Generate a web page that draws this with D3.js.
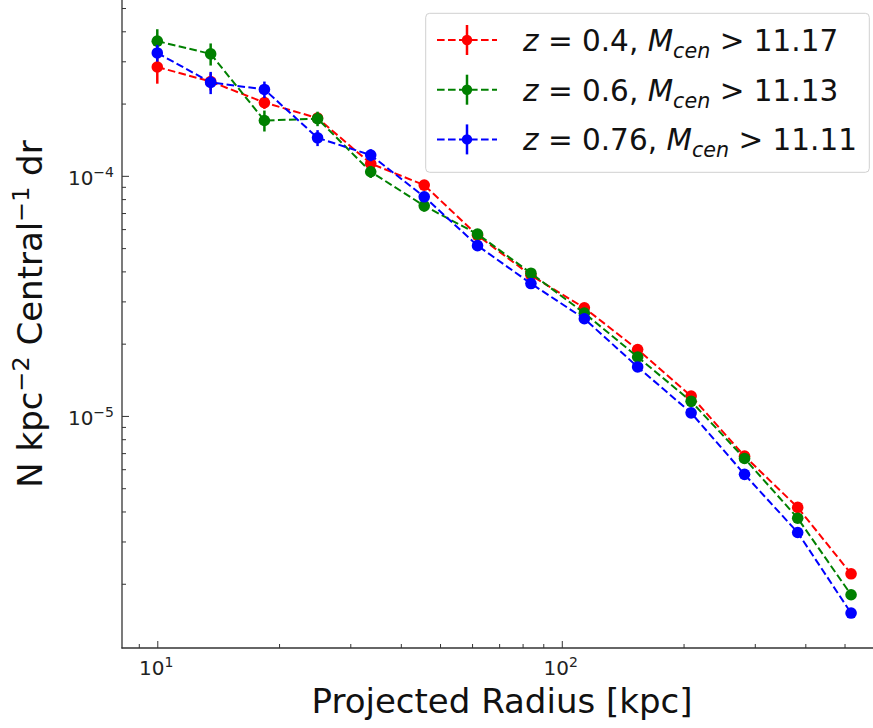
<!DOCTYPE html>
<html><head><meta charset="utf-8">
<script src="https://cdn.jsdelivr.net/npm/d3@7"></script>
<style>body{margin:0;background:#fff} text{font-family:"DejaVu Sans",sans-serif;fill:#000}</style>
</head><body><svg id="c" width="873" height="728"></svg>
<script>
// ---- data ----
const radius = [10.0, 13.55, 18.4, 24.9, 33.7, 45.7, 61.9, 83.9, 113.7, 154, 208.8, 283, 383, 519];
const nRed   = [2.84e-4, 2.47e-4, 2.02e-4, 1.74e-4, 1.125e-4, 9.15e-5, 5.65e-5, 3.85e-5, 2.82e-5, 1.89e-5, 1.21e-5, 6.80e-6, 4.16e-6, 2.20e-6];
const nGreen = [3.64e-4, 3.22e-4, 1.70e-4, 1.73e-4, 1.04e-4, 7.50e-5, 5.72e-5, 3.93e-5, 2.68e-5, 1.76e-5, 1.15e-5, 6.65e-6, 3.75e-6, 1.80e-6];
const nBlue  = [3.25e-4, 2.45e-4, 2.29e-4, 1.44e-4, 1.22e-4, 8.18e-5, 5.12e-5, 3.56e-5, 2.54e-5, 1.60e-5, 1.03e-5, 5.71e-6, 3.27e-6, 1.51e-6];
const errRed   = [4.2e-5, 2.0e-5, 1.2e-5, 8e-6, 5e-6, 3.5e-6, 2e-6, 1.2e-6, 8e-7, 5e-7, 3e-7, 1.5e-7, 1e-7, 6e-8];
const errGreen = [4.4e-5, 3.4e-5, 1.7e-5, 1.2e-5, 6e-6, 4e-6, 2.2e-6, 1.4e-6, 9e-7, 5e-7, 3e-7, 1.6e-7, 1e-7, 6e-8];
const errBlue  = [2.6e-5, 2.6e-5, 1.8e-5, 1.1e-5, 7e-6, 4e-6, 2e-6, 1.2e-6, 8e-7, 5e-7, 3e-7, 1.5e-7, 9e-8, 5e-8];
const seriesColors = ["#ff0000", "#008000", "#0000ff"];
const zLabels = ["0.4", "0.6", "0.76"];
const massCuts = ["11.17", "11.13", "11.11"];
const xMajorTicks = [10, 100];
const xMajorExp = ["1", "2"];
const xMinorTicks = [9, 20, 30, 40, 50, 60, 70, 80, 90, 200, 300, 400, 500];
const yMajorTicks = [1e-5, 1e-4];
const yMajorExp = ["\u22125", "\u22124"];
const yMinorTicks = [2e-6, 3e-6, 4e-6, 5e-6, 6e-6, 7e-6, 8e-6, 9e-6, 2e-5, 3e-5, 4e-5, 5e-5, 6e-5, 7e-5, 8e-5, 9e-5, 2e-4, 3e-4, 4e-4, 5e-4];
const xDomain = [8.18, 588];
const yDomain = [1.08e-6, 5.4e-4];

// ---- layout ----
const svg = d3.select("#c");
const L = 122, R = 873, T = 0, B = 648;
const x = d3.scaleLog().domain(xDomain).range([L, R]);
const y = d3.scaleLog().domain(yDomain).range([B, T]);

const series = [
  {vals: nRed, err: errRed, color: seriesColors[0]},
  {vals: nGreen, err: errGreen, color: seriesColors[1]},
  {vals: nBlue, err: errBlue, color: seriesColors[2]}
];

const gData = svg.append("g");
series.forEach(s => {
  const pts = radius.map((r, i) => ({r, v: s.vals[i], e: s.err[i]}));
  const g = gData.append("g");
  g.append("path").datum(pts)
    .attr("d", d3.line().x(d => x(d.r)).y(d => y(d.v)))
    .attr("fill", "none").attr("stroke", s.color).attr("stroke-width", 2)
    .attr("stroke-dasharray", "7.6,3.4");
  g.selectAll("line.eb").data(pts).join("line")
    .attr("x1", d => x(d.r)).attr("x2", d => x(d.r))
    .attr("y1", d => y(d.v + d.e)).attr("y2", d => y(Math.max(d.v - d.e, 1e-9)))
    .attr("stroke", s.color).attr("stroke-width", 2.5);
  g.selectAll("circle").data(pts).join("circle")
    .attr("cx", d => x(d.r)).attr("cy", d => y(d.v)).attr("r", 5.8)
    .attr("fill", s.color);
});

// ---- axes ----
const axCol = "#333";
const gx = svg.append("g").attr("transform", `translate(0,${B})`);
gx.call(d3.axisBottom(x).tickValues(xMajorTicks).tickSize(-7).tickFormat(""));
const gxm = svg.append("g").attr("transform", `translate(0,${B})`);
gxm.call(d3.axisBottom(x).tickValues(xMinorTicks).tickSize(-4).tickFormat(""));
[gx, gxm].forEach(g => { g.select(".domain").remove(); g.selectAll("line").attr("stroke", axCol).attr("stroke-width", 1); });

const gy = svg.append("g").attr("transform", `translate(${L},0)`);
gy.call(d3.axisLeft(y).tickValues(yMajorTicks).tickSize(-7).tickFormat(""));
const gym = svg.append("g").attr("transform", `translate(${L},0)`);
gym.call(d3.axisLeft(y).tickValues(yMinorTicks).tickSize(-4).tickFormat(""));
[gy, gym].forEach(g => { g.select(".domain").remove(); g.selectAll("line").attr("stroke", axCol).attr("stroke-width", 1); });

svg.append("line").attr("x1", L).attr("x2", L).attr("y1", T - 2).attr("y2", B + 0.5).attr("stroke", axCol).attr("stroke-width", 1.3);
svg.append("line").attr("x1", L - 0.5).attr("x2", R + 2).attr("y1", B).attr("y2", B).attr("stroke", axCol).attr("stroke-width", 1.3);

// tick labels
const tickFs = 20;
xMajorTicks.forEach((t, i) => {
  const tx = svg.append("text").attr("x", x(t) - 1).attr("y", B + 27).attr("text-anchor", "middle")
    .style("font-size", tickFs + "px").style("fill", "#222");
  tx.append("tspan").text("10");
  tx.append("tspan").attr("dy", -8).style("font-size", (tickFs * 0.7) + "px").text(xMajorExp[i]);
});
yMajorTicks.forEach((t, i) => {
  const tx = svg.append("text").attr("x", L - 8).attr("y", y(t) + 9).attr("text-anchor", "end")
    .style("font-size", tickFs + "px").style("fill", "#222");
  tx.append("tspan").text("10");
  tx.append("tspan").attr("dy", -8).style("font-size", (tickFs * 0.7) + "px").text(yMajorExp[i]);
});

// axis labels
const labFs = 34;
svg.append("text").attr("x", (311 + 693) / 2).attr("y", 713).attr("text-anchor", "middle")
  .style("font-size", labFs + "px").style("fill", "#111").text("Projected Radius [kpc]");

const yl = svg.append("text").attr("transform", `translate(42,314) rotate(-90)`).attr("text-anchor", "middle")
  .style("font-size", labFs + "px").style("fill", "#111");
yl.append("tspan").text("N kpc");
yl.append("tspan").attr("dy", -13).style("font-size", (labFs * 0.7) + "px").text("\u22122");
yl.append("tspan").attr("dy", 13).text(" Central");
yl.append("tspan").attr("dy", -13).style("font-size", (labFs * 0.7) + "px").text("\u22121");
yl.append("tspan").attr("dy", 13).text(" dr");

// ---- legend ----
const lg = svg.append("g");
lg.append("rect").attr("x", 425.7).attr("y", 13.3).attr("width", 443.6).attr("height", 159)
  .attr("rx", 4).attr("fill", "#fff").attr("fill-opacity", 0.8).attr("stroke", "#d0d0d0").attr("stroke-width", 1);
const legFs = 29.5;
series.forEach((s, i) => {
  const cy = 40 + i * 49.7;
  lg.append("line").attr("x1", 437).attr("x2", 497).attr("y1", cy).attr("y2", cy)
    .attr("stroke", s.color).attr("stroke-width", 2).attr("stroke-dasharray", "7.6,3.4");
  lg.append("line").attr("x1", 467).attr("x2", 467).attr("y1", cy - 15).attr("y2", cy + 15)
    .attr("stroke", s.color).attr("stroke-width", 2.5);
  lg.append("circle").attr("cx", 467).attr("cy", cy).attr("r", 5.2).attr("fill", s.color);
  const t = lg.append("text").attr("x", 523).attr("y", cy + 11).style("font-size", legFs + "px").style("fill", "#111");
  t.append("tspan").style("font-style", "italic").text("z");
  t.append("tspan").text(" = " + zLabels[i] + ", ");
  t.append("tspan").style("font-style", "italic").text("M");
  t.append("tspan").attr("dy", 7).style("font-style", "italic").style("font-size", (legFs * 0.7) + "px").text("cen");
  t.append("tspan").attr("dy", -7).text(" > " + massCuts[i]);
});
</script></body></html>
